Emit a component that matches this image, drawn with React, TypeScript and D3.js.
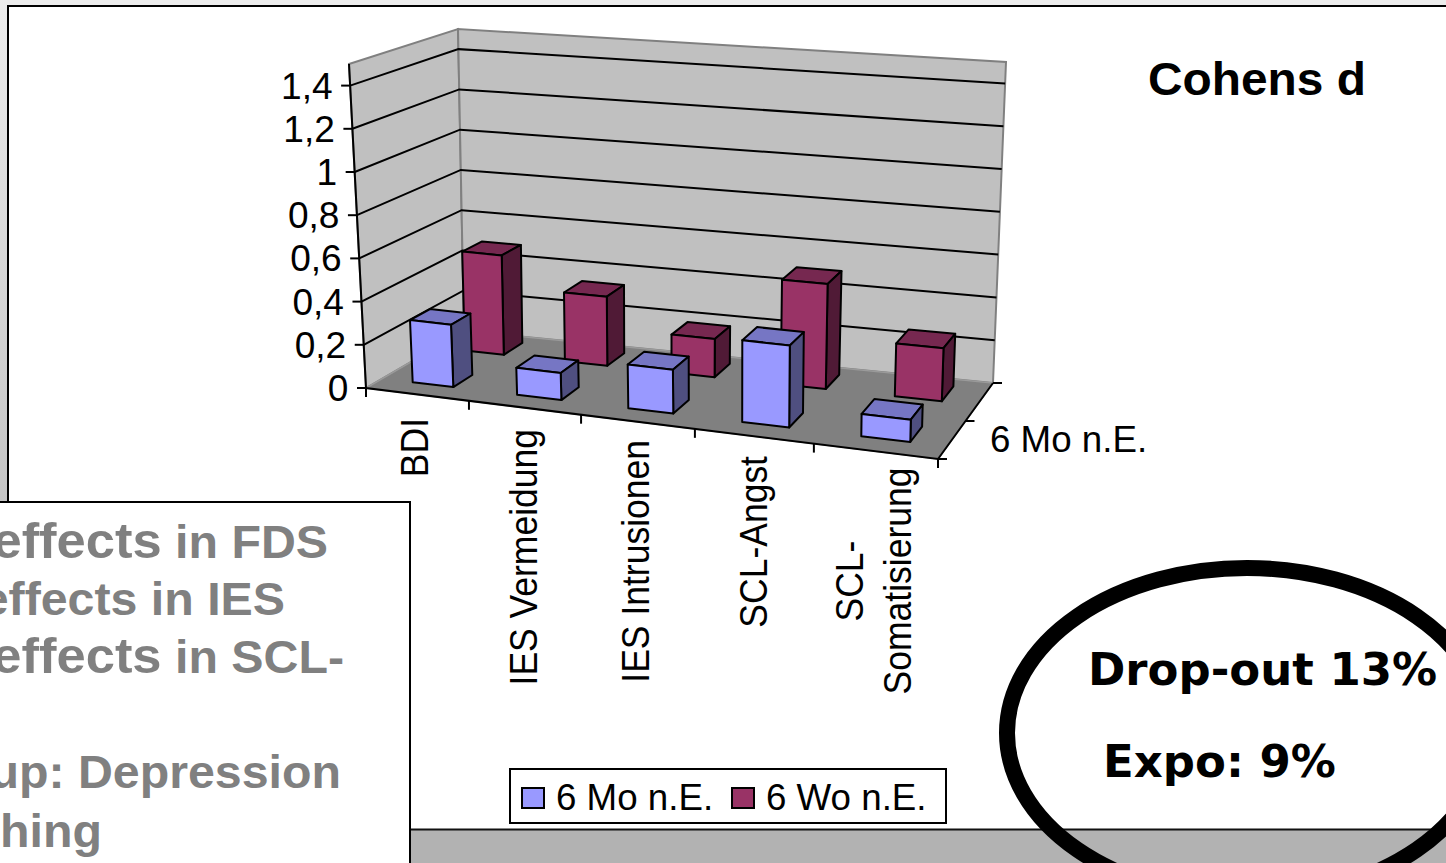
import React from "react";
import * as d3 from "d3";

// Chart data
const categories = ["BDI", "IES Vermeidung", "IES Intrusionen", "SCL-Angst", "SCL-\nSomatisierung"];
const seriesNames = ["6 Mo n.E.", "6 Wo n.E."];
const valuesMonths = [0.29, 0.125, 0.2, 0.37, 0.1];
const valuesWeeks = [0.48, 0.33, 0.18, 0.49, 0.245];
const valueTicks = [0, 0.2, 0.4, 0.6, 0.8, 1, 1.2, 1.4];
const valueMax = 1.5;

const WIDTH = 1446;
const HEIGHT = 863;

// Corners of the 3D plot box on screen, named by category / depth / height end
type P = [number, number];
const corners: Record<string, P> = {
  "000": [366, 388],
  "100": [938, 459],
  "010": [464, 331],
  "110": [993, 383],
  "001": [349, 64],
  "101": [946, 119],
  "011": [458, 29],
  "111": [1006, 62],
};

// Foreshortening along the category axis
const catScale = d3.scaleLinear().domain([0, 1, 2, 3, 4, 5]).range([0, 0.18, 0.376, 0.575, 0.783, 1]);
const heightScale = d3.scaleLinear().domain([0, valueMax]).range([0, 1]);

const lerp = (a: P, b: P, t: number): P => [a[0] + (b[0] - a[0]) * t, a[1] + (b[1] - a[1]) * t];

// Trilinear projection of a point in the plot box
function project(u: number, v: number, w: number): P {
  const b0 = lerp(lerp(corners["000"], corners["100"], u), lerp(corners["010"], corners["110"], u), v);
  const b1 = lerp(lerp(corners["001"], corners["101"], u), lerp(corners["011"], corners["111"], u), v);
  return lerp(b0, b1, w);
}

const poly = (pts: P[]) => pts.map((p) => `${p[0].toFixed(1)},${p[1].toFixed(1)}`).join(" ");
const line = d3.line<P>();

const BAR_WIDTH = 0.4;
const seriesDepths: [number, number][] = [
  [0.165, 0.37],
  [0.71, 0.91],
];
const palette = [
  { front: "#9999FF", top: "#7676C4", side: "#4F4F80" },
  { front: "#993366", top: "#762850", side: "#501A36" },
];

function Bar({ cat, value, series }: { cat: number; value: number; series: number }) {
  const u0 = catScale(cat + 0.5 - BAR_WIDTH / 2);
  const u1 = catScale(cat + 0.5 + BAR_WIDTH / 2);
  const [v0, v1] = seriesDepths[series];
  const w = heightScale(value);
  const c = palette[series];
  const stroke = { stroke: "#000", strokeWidth: 2, strokeLinejoin: "round" as const };
  return (
    <g>
      <polygon
        points={poly([project(u0, v0, w), project(u1, v0, w), project(u1, v1, w), project(u0, v1, w)])}
        fill={c.top}
        {...stroke}
      />
      <polygon
        points={poly([project(u1, v0, 0), project(u1, v1, 0), project(u1, v1, w), project(u1, v0, w)])}
        fill={c.side}
        {...stroke}
      />
      <polygon
        points={poly([project(u0, v0, 0), project(u1, v0, 0), project(u1, v0, w), project(u0, v0, w)])}
        fill={c.front}
        {...stroke}
      />
    </g>
  );
}

const SANS = "'Liberation Sans', Arial, sans-serif";
const VERDANA = "'DejaVu Sans', Verdana, sans-serif";

const commaFormat = (d: number) => String(d).replace(".", ",");

// Rotated category labels: baseline x and the y of the reading end
const labelAnchors = [
  { x: 427.5, y: 418 },
  { x: 537, y: 429 },
  { x: 648.5, y: 440 },
  { x: 767, y: 456 },
];
const lastLabelX = [863, 911];

const panelLines = [
  { lead: "effects", rest: " in FDS", right: 328, y: 558 },
  { lead: "", rest: "effects in IES", right: 285, y: 615 },
  { lead: "effects", rest: " in SCL-", right: 344, y: 673 },
  { lead: "", rest: "up: Depression", right: 341, y: 788 },
  { lead: "", rest: "hing", right: 102, y: 847 },
];

// Text set slightly wider than it is tall
const wideText = (x: number, y: number, sx = 1.03) => `translate(${x},${y}) scale(${sx},1)`;

export default function App() {
  const tickPositions = catScale.domain();
  return (
    <svg
      width={WIDTH}
      height={HEIGHT}
      viewBox={`0 0 ${WIDTH} ${HEIGHT}`}
      style={{ position: "absolute", left: 0, top: 0, display: "block" }}
    >
      <defs>
        <linearGradient id="edge" x1="0" y1="0" x2="0" y2="1">
          <stop offset="0" stopColor="#EDEDED" />
          <stop offset="1" stopColor="#C4C4C4" />
        </linearGradient>
      </defs>

      {/* slide background and frame */}
      <rect x={0} y={0} width={WIDTH} height={HEIGHT} fill="#fff" />
      <rect x={0} y={0} width={WIDTH} height={6} fill="#ECECEC" />
      <rect x={0} y={0} width={7} height={505} fill="url(#edge)" />
      <path d={`M${WIDTH},6 H8 V505`} fill="none" stroke="#000" strokeWidth={2} />
      <rect x={410} y={830} width={WIDTH - 410} height={33} fill="#B2B2B2" />
      <line x1={410} x2={WIDTH} y1={829.5} y2={829.5} stroke="#111" strokeWidth={2} />

      {/* walls and floor */}
      <polygon
        points={poly([project(0, 0, 0), project(0, 0, 1), project(0, 1, 1), project(0, 1, 0)])}
        fill="#C0C0C0"
        stroke="#808080"
        strokeWidth={2}
      />
      <polygon
        points={poly([project(0, 1, 0), project(0, 1, 1), project(1, 1, 1), project(1, 1, 0)])}
        fill="#C0C0C0"
        stroke="#808080"
        strokeWidth={2}
      />
      <polygon
        points={poly([project(0, 0, 0), project(1, 0, 0), project(1, 1, 0), project(0, 1, 0)])}
        fill="#808080"
        stroke="#9A9A9A"
        strokeWidth={1.5}
      />

      {/* gridlines */}
      {valueTicks.slice(1).map((t) => {
        const w = heightScale(t);
        return (
          <path
            key={t}
            d={line([project(0, 0, w), project(0, 1, w), project(1, 1, w)]) ?? ""}
            fill="none"
            stroke="#000"
            strokeWidth={2}
          />
        );
      })}

      {/* axes */}
      <path d={line([project(0, 0, 1), project(0, 0, 0), project(1, 0, 0), project(1, 1, 0)]) ?? ""} fill="none" stroke="#000" strokeWidth={2} />
      {valueTicks.map((t) => {
        const [x, y] = project(0, 0, heightScale(t));
        return (
          <g key={t}>
            <line x1={x - 9} x2={x} y1={y} y2={y} stroke="#000" strokeWidth={2} />
            <text transform={wideText(x - 17.5, y + 13)} textAnchor="end" fontFamily={SANS} fontSize={36} fill="#000">
              {commaFormat(t)}
            </text>
          </g>
        );
      })}
      {tickPositions.map((c) => {
        const [x, y] = project(catScale(c), 0, 0);
        return <line key={c} x1={x} x2={x} y1={y} y2={y + 9} stroke="#000" strokeWidth={2} />;
      })}
      {[0, 0.5, 1].map((v) => {
        const [x, y] = project(1, v, 0);
        return <line key={v} x1={x} x2={x + 9} y1={y} y2={y} stroke="#000" strokeWidth={2} />;
      })}

      {/* bars, back row first */}
      {valuesWeeks.map((d, i) => (
        <Bar key={`w${i}`} cat={i} value={d} series={1} />
      ))}
      {valuesMonths.map((d, i) => (
        <Bar key={`m${i}`} cat={i} value={d} series={0} />
      ))}

      {/* category labels */}
      {labelAnchors.map((a, i) => (
        <text
          key={categories[i]}
          transform={`${wideText(a.x, a.y, 1.08)} rotate(-90)`}
          textAnchor="end"
          fontFamily={SANS}
          fontSize={35.5}
          fill="#000"
        >
          {categories[i]}
        </text>
      ))}
      {categories[4].split("\n").map((part, i) => (
        <text
          key={part}
          transform={`${wideText(lastLabelX[i], 581, 1.08)} rotate(-90)`}
          textAnchor="middle"
          fontFamily={SANS}
          fontSize={35.5}
          fill="#000"
        >
          {part}
        </text>
      ))}

      {/* depth axis label */}
      <text transform={wideText(990, 452, 1.02)} fontFamily={SANS} fontSize={36} fill="#000">
        {seriesNames[0]}
      </text>

      {/* title */}
      <text transform={wideText(1148, 95, 1.04)} fontFamily={SANS} fontSize={46} fontWeight={700} fill="#000">
        Cohens d
      </text>

      {/* legend */}
      <rect x={510} y={769} width={436} height={54} fill="#fff" stroke="#000" strokeWidth={2} />
      {seriesNames.map((name, i) => {
        const x = 522 + i * 210;
        return (
          <g key={name}>
            <rect x={x} y={788} width={22} height={20} fill={palette[i].front} stroke="#000" strokeWidth={2} />
            <text transform={wideText(x + 34, 810, 1.02)} fontFamily={SANS} fontSize={36} fill="#000">
              {name}
            </text>
          </g>
        );
      })}

      {/* notes panel */}
      <rect x={-4} y={502} width={414} height={HEIGHT} fill="#fff" stroke="#000" strokeWidth={2} />
      {panelLines.map((l) => (
        <text
          key={l.y}
          transform={wideText(l.right, l.y, 1.05)}
          textAnchor="end"
          fontFamily={SANS}
          fontSize={46}
          fontWeight={700}
          fill="#808080"
        >
          {l.lead ? <tspan fontSize={50}>{l.lead}</tspan> : null}
          <tspan>{l.rest}</tspan>
        </text>
      ))}

      {/* drop-out callout */}
      <ellipse cx={1247} cy={733} rx={240} ry={165} fill="none" stroke="#000" strokeWidth={16} />
      <text x={1088} y={685} fontFamily={VERDANA} fontSize={45} fontWeight={700} fill="#000">
        Drop-out 13%
      </text>
      <text x={1103} y={777} fontFamily={VERDANA} fontSize={45} fontWeight={700} fill="#000">
        Expo: 9%
      </text>
    </svg>
  );
}
